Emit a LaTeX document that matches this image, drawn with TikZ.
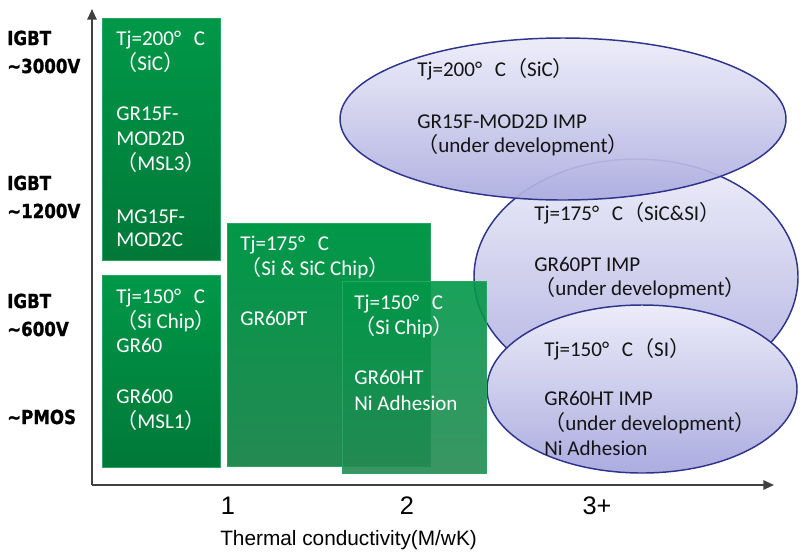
\documentclass[tikz,border=0pt]{standalone}
\usepackage{fontspec}
\setmainfont{Carlito}
\newfontfamily\cjkf{Noto Sans CJK SC}
\newfontfamily\labf[FakeStretch=0.86,FakeBold=1.2]{DejaVu Sans}
\newfontfamily\axf{Liberation Sans}
\usetikzlibrary{arrows.meta}
\newcommand\lpr{{\cjkf （}}
\newcommand\rpr{{\cjkf ）}}
\newcommand\dgc{°\hspace{0.6em}C}
\definecolor{gtop}{RGB}{0,152,72}
\definecolor{gbot}{RGB}{0,120,56}
\definecolor{gbotl}{RGB}{36,138,82}
\definecolor{gedge}{RGB}{40,165,95}
\definecolor{etop}{RGB}{236,236,249}
\definecolor{ebot}{RGB}{172,172,224}
\definecolor{enavy}{RGB}{46,52,140}
\definecolor{axis}{RGB}{64,64,64}
\definecolor{etext}{RGB}{20,20,20}
\tikzset{
  btxt/.style={anchor=base west, inner sep=0pt, text=white, font=\fontsize{15.8}{18}\selectfont},
  etxt/.style={anchor=base west, inner sep=0pt, text=etext, font=\fontsize{15.8}{18}\selectfont},
  ltxt/.style={anchor=base west, inner sep=0pt, text=black, font=\labf\bfseries\fontsize{14.5}{16}\selectfont},
  tick/.style={anchor=base, inner sep=0pt, text=black, font=\axf\fontsize{19}{21}\selectfont},
  ell/.style={top color=etop, bottom color=ebot, draw=enavy, line width=1.1pt, fill opacity=0.93, draw opacity=1},
  gbox/.style={top color=gtop, bottom color=gbot, draw=gedge, line width=0.5pt},
}
\begin{document}
\begin{tikzpicture}[x=0.75pt,y=-0.75pt]
\useasboundingbox (0,0) rectangle (803,551);
% ellipses
\shade[ell] (636,277) ellipse [x radius=121.5pt, y radius=88.5pt];
\shade[ell] (563,119) ellipse [x radius=167.25pt, y radius=60.75pt];
\shade[ell, fill opacity=1] (642,389) ellipse [x radius=116.25pt, y radius=63pt];
% green boxes
\shade[gbox] (102,18) rectangle (220,260);
\shade[gbox] (102,275) rectangle (220,467);
\shade[gbox, bottom color=gbotl] (227,223) rectangle (430,466);
\shade[gbox, bottom color=gbotl, fill opacity=0.9] (342,281) rectangle (486,473);
% axes
\coordinate (o) at (92,485);
\coordinate (ytop) at (92,9);
\coordinate (xend) at (774,485);
\draw[axis, line width=1.5pt, -{Triangle[length=8pt,width=7pt]}] (o) -- (ytop);
\draw[axis, line width=1.5pt, -{Triangle[length=8pt,width=7pt]}] (o) -- (xend);
% left labels
\node[ltxt] (l1) at (7,45) {IGBT};
\node[ltxt] (l2) at (7,73) {∼3000V};
\node[ltxt] (l3) at (7,190) {IGBT};
\node[ltxt] (l4) at (7,218) {∼1200V};
\node[ltxt] (l5) at (7,308) {IGBT};
\node[ltxt] (l6) at (7,336) {∼600V};
\node[ltxt] (l7) at (7,424) {∼PMOS};
% ticks
\node[tick] (t1) at (228,514) {1};
\node[tick] (t2) at (407,514) {2};
\node[tick] (t3) at (597,514) {3+};
\node[anchor=base west, inner sep=0pt, font=\axf\fontsize{15.6}{17}\selectfont] (xl) at (220,545) {Thermal conductivity(M/wK)};
% box 1
\node[btxt] (a1) at (116,45) {Tj=200\dgc};
\node[btxt] (a2) at (116,70) {\lpr SiC\rpr};
\node[btxt] (a3) at (116,120) {GR15F-};
\node[btxt] (a4) at (116,145) {MOD2D};
\node[btxt] (a5) at (116,170) {\lpr MSL3\rpr};
\node[btxt] (a6) at (116,223) {MG15F-};
\node[btxt] (a7) at (116,246) {MOD2C};
% box 2
\node[btxt] (b1) at (116,303) {Tj=150\dgc};
\node[btxt] (b2) at (116,328) {\lpr Si Chip\rpr};
\node[btxt] (b3) at (116,352) {GR60};
\node[btxt] (b4) at (116,403) {GR600};
\node[btxt] (b5) at (116,428) {\lpr MSL1\rpr};
% box 3
\node[btxt] (c1) at (240,250) {Tj=175\dgc};
\node[btxt] (c2) at (240,275) {\lpr Si \& SiC Chip\rpr};
\node[btxt] (c3) at (240,325) {GR60PT};
% box 4
\node[btxt] (d1) at (354,309) {Tj=150\dgc};
\node[btxt] (d2) at (354,334) {\lpr Si Chip\rpr};
\node[btxt] (d3) at (354,384) {GR60HT};
\node[btxt] (d4) at (354,410) {Ni Adhesion};
% ellipse 1
\node[etxt] (e1) at (417,76) {Tj=200\dgc\lpr SiC\rpr};
\node[etxt] (e2) at (417,128) {GR15F-MOD2D IMP};
\node[etxt] (e3) at (417,152) {\lpr under development\rpr};
% ellipse 2
\node[etxt] (f1) at (534,220) {Tj=175\dgc\lpr SiC\&SI\rpr};
\node[etxt] (f2) at (534,271) {GR60PT IMP};
\node[etxt] (f3) at (534,295) {\lpr under development\rpr};
% ellipse 3
\node[etxt] (g1) at (544,356) {Tj=150\dgc\lpr SI\rpr};
\node[etxt] (g2) at (544,405) {GR60HT IMP};
\node[etxt] (g3) at (544,430) {\lpr under development\rpr};
\node[etxt] (g4) at (544,455) {Ni Adhesion};
\end{tikzpicture}
\end{document}
